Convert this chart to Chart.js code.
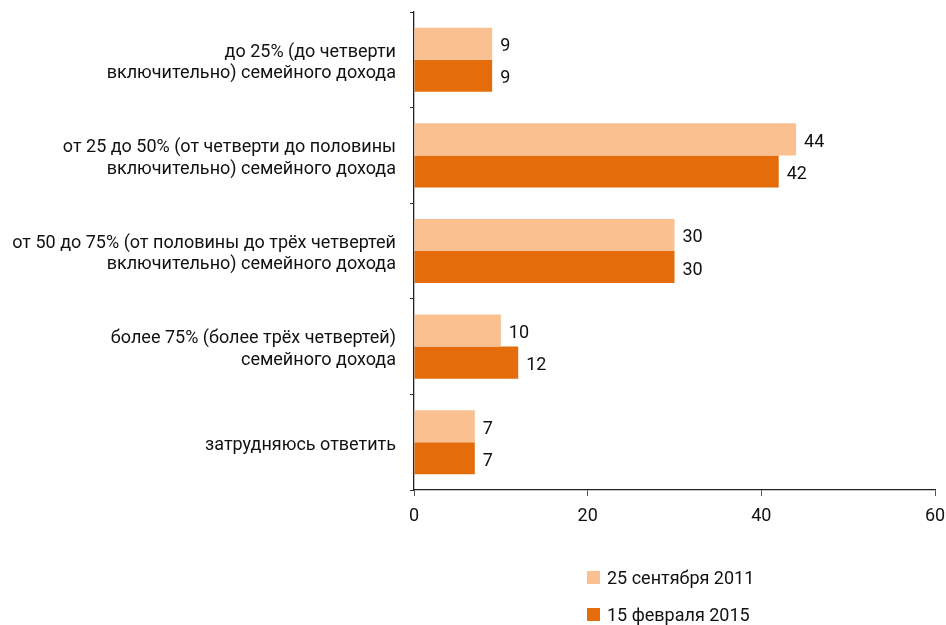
<!DOCTYPE html>
<html lang="ru">
<head>
<meta charset="utf-8">
<script src="https://cdn.jsdelivr.net/npm/chart.js@4/dist/chart.umd.min.js"></script>
<style>
  html, body { margin: 0; padding: 0; background: #fff; }
  #wrap { position: relative; width: 946px; height: 625px; }
  #legend { position: absolute; left: 587px; top: 566px; font-family: Roboto, "Noto Sans", sans-serif; font-size: 18px; color: #111; }
  #legend .item { display: flex; align-items: center; height: 22px; margin-bottom: 15px; }
  #legend .box { width: 13px; height: 13px; margin-right: 7px; }
</style>
</head>
<body>
<div id="wrap">
  <canvas id="chart" width="946" height="625"></canvas>
  <div id="legend"></div>
</div>
<script>
// Answer categories (multi-line labels)
const categories = [
  ['до 25% (до четверти', 'включительно) семейного дохода'],
  ['от 25 до 50% (от четверти до половины', 'включительно) семейного дохода'],
  ['от 50 до 75% (от половины до трёх четвертей', 'включительно) семейного дохода'],
  ['более 75% (более трёх четвертей)', 'семейного дохода'],
  ['затрудняюсь ответить']
];
const seriesNames = ['25 сентября 2011', '15 февраля 2015'];
const values2011 = [9, 44, 30, 10, 7];
const values2015 = [9, 42, 30, 12, 7];
const xTicks = [0, 20, 40, 60];

const colors = ['#FAC090', '#E46C0A'];
const FONT = 'Roboto, "Noto Sans", sans-serif';

// Draws each bar's value just past its end
const valueLabels = {
  id: 'valueLabels',
  afterDatasetsDraw(chart) {
    const ctx = chart.ctx;
    ctx.save();
    ctx.font = '18px ' + FONT;
    ctx.fillStyle = '#111';
    ctx.textAlign = 'left';
    ctx.textBaseline = 'middle';
    chart.data.datasets.forEach((ds, di) => {
      chart.getDatasetMeta(di).data.forEach((bar, i) => {
        ctx.fillText(String(ds.data[i]), bar.x + 8, bar.y + 3);
      });
    });
    ctx.restore();
  }
};

const chart = new Chart(document.getElementById('chart'), {
  type: 'bar',
  data: {
    labels: categories,
    datasets: [
      { label: seriesNames[0], data: values2011, backgroundColor: colors[0] },
      { label: seriesNames[1], data: values2015, backgroundColor: colors[1] }
    ]
  },
  options: {
    indexAxis: 'y',
    responsive: false,
    animation: false,
    events: [],
    layout: { padding: { top: 12, right: 11, bottom: 95, left: 0 } },
    datasets: { bar: { categoryPercentage: 0.67, barPercentage: 1.0 } },
    plugins: {
      legend: { display: false },
      tooltip: { enabled: false }
    },
    scales: {
      x: {
        min: 0, max: 60,
        afterBuildTicks(scale) { scale.ticks = xTicks.map(v => ({ value: v })); },
        afterFit(scale) { scale.height = 40; scale.paddingLeft = 0; scale.paddingRight = 0; },
        border: { display: true, color: '#222', width: 1.3 },
        grid: { drawOnChartArea: false, drawTicks: true, tickLength: 6, color: '#555' },
        ticks: { font: { family: FONT, size: 18 }, color: '#111', padding: 10, maxRotation: 0 }
      },
      y: {
        afterFit(scale) { scale.width = 414; scale.paddingTop = 0; scale.paddingBottom = 0; },
        border: { display: true, color: '#222', width: 1.3 },
        grid: { drawOnChartArea: false, drawTicks: true, tickLength: 4, color: '#333', offset: true },
        ticks: { font: { family: FONT, size: 18, lineHeight: 1.2 }, color: '#111', padding: 14, labelOffset: 3 }
      }
    }
  },
  plugins: [valueLabels]
});

// Legend built from the chart's datasets
const legend = document.getElementById('legend');
chart.data.datasets.forEach(ds => {
  const item = document.createElement('div');
  item.className = 'item';
  const box = document.createElement('span');
  box.className = 'box';
  box.style.background = ds.backgroundColor;
  const txt = document.createElement('span');
  txt.textContent = ds.label;
  item.appendChild(box);
  item.appendChild(txt);
  legend.appendChild(item);
});
</script>
</body>
</html>
